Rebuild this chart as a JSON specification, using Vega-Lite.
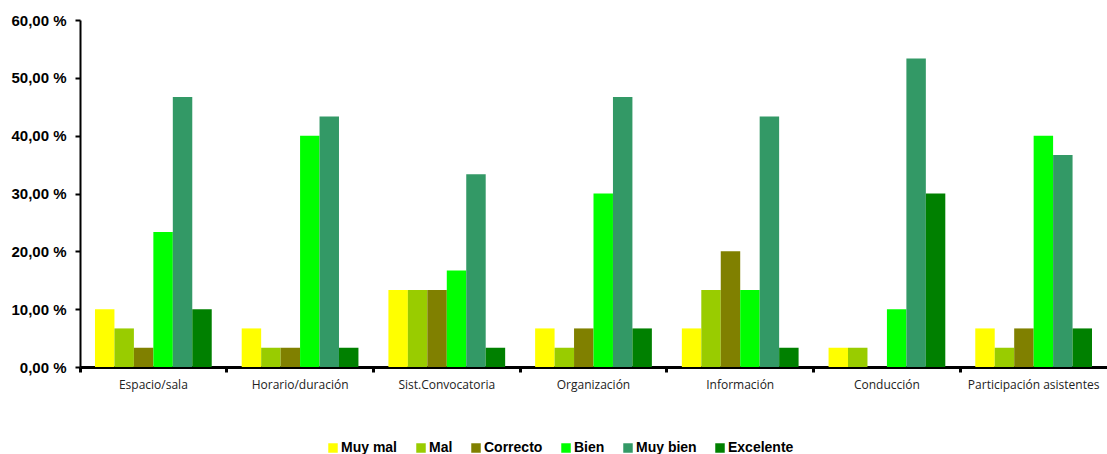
{
  "$schema": "https://vega.github.io/schema/vega-lite/v6.json",
  "width": 1027,
  "height": 347,
  "autosize": {"type": "none"},
  "padding": {"left": 80, "top": 20, "right": 0, "bottom": 87},
  "background": "white",
  "config": {
    "view": {"stroke": null},
    "axis": {"grid": false}
  },
  "data": {
    "values": [
      {"Aspecto": "Espacio/sala", "Valoracion": "Muy mal", "Porcentaje": 10.0},
      {"Aspecto": "Espacio/sala", "Valoracion": "Mal", "Porcentaje": 6.67},
      {"Aspecto": "Espacio/sala", "Valoracion": "Correcto", "Porcentaje": 3.33},
      {"Aspecto": "Espacio/sala", "Valoracion": "Bien", "Porcentaje": 23.33},
      {"Aspecto": "Espacio/sala", "Valoracion": "Muy bien", "Porcentaje": 46.67},
      {"Aspecto": "Espacio/sala", "Valoracion": "Excelente", "Porcentaje": 10.0},
      {"Aspecto": "Horario/duración", "Valoracion": "Muy mal", "Porcentaje": 6.67},
      {"Aspecto": "Horario/duración", "Valoracion": "Mal", "Porcentaje": 3.33},
      {"Aspecto": "Horario/duración", "Valoracion": "Correcto", "Porcentaje": 3.33},
      {"Aspecto": "Horario/duración", "Valoracion": "Bien", "Porcentaje": 40.0},
      {"Aspecto": "Horario/duración", "Valoracion": "Muy bien", "Porcentaje": 43.33},
      {"Aspecto": "Horario/duración", "Valoracion": "Excelente", "Porcentaje": 3.33},
      {"Aspecto": "Sist.Convocatoria", "Valoracion": "Muy mal", "Porcentaje": 13.33},
      {"Aspecto": "Sist.Convocatoria", "Valoracion": "Mal", "Porcentaje": 13.33},
      {"Aspecto": "Sist.Convocatoria", "Valoracion": "Correcto", "Porcentaje": 13.33},
      {"Aspecto": "Sist.Convocatoria", "Valoracion": "Bien", "Porcentaje": 16.67},
      {"Aspecto": "Sist.Convocatoria", "Valoracion": "Muy bien", "Porcentaje": 33.33},
      {"Aspecto": "Sist.Convocatoria", "Valoracion": "Excelente", "Porcentaje": 3.33},
      {"Aspecto": "Organización", "Valoracion": "Muy mal", "Porcentaje": 6.67},
      {"Aspecto": "Organización", "Valoracion": "Mal", "Porcentaje": 3.33},
      {"Aspecto": "Organización", "Valoracion": "Correcto", "Porcentaje": 6.67},
      {"Aspecto": "Organización", "Valoracion": "Bien", "Porcentaje": 30.0},
      {"Aspecto": "Organización", "Valoracion": "Muy bien", "Porcentaje": 46.67},
      {"Aspecto": "Organización", "Valoracion": "Excelente", "Porcentaje": 6.67},
      {"Aspecto": "Información", "Valoracion": "Muy mal", "Porcentaje": 6.67},
      {"Aspecto": "Información", "Valoracion": "Mal", "Porcentaje": 13.33},
      {"Aspecto": "Información", "Valoracion": "Correcto", "Porcentaje": 20.0},
      {"Aspecto": "Información", "Valoracion": "Bien", "Porcentaje": 13.33},
      {"Aspecto": "Información", "Valoracion": "Muy bien", "Porcentaje": 43.33},
      {"Aspecto": "Información", "Valoracion": "Excelente", "Porcentaje": 3.33},
      {"Aspecto": "Conducción", "Valoracion": "Muy mal", "Porcentaje": 3.33},
      {"Aspecto": "Conducción", "Valoracion": "Mal", "Porcentaje": 3.33},
      {"Aspecto": "Conducción", "Valoracion": "Correcto", "Porcentaje": 0},
      {"Aspecto": "Conducción", "Valoracion": "Bien", "Porcentaje": 10.0},
      {"Aspecto": "Conducción", "Valoracion": "Muy bien", "Porcentaje": 53.33},
      {"Aspecto": "Conducción", "Valoracion": "Excelente", "Porcentaje": 30.0},
      {"Aspecto": "Participación asistentes", "Valoracion": "Muy mal", "Porcentaje": 6.67},
      {"Aspecto": "Participación asistentes", "Valoracion": "Mal", "Porcentaje": 3.33},
      {"Aspecto": "Participación asistentes", "Valoracion": "Correcto", "Porcentaje": 6.67},
      {"Aspecto": "Participación asistentes", "Valoracion": "Bien", "Porcentaje": 40.0},
      {"Aspecto": "Participación asistentes", "Valoracion": "Muy bien", "Porcentaje": 36.67},
      {"Aspecto": "Participación asistentes", "Valoracion": "Excelente", "Porcentaje": 6.67}
    ]
  },
  "mark": {"type": "bar"},
  "encoding": {
    "x": {
      "field": "Aspecto",
      "type": "nominal",
      "sort": null,
      "scale": {"paddingInner": 0, "paddingOuter": 0},
      "axis": {
        "title": null,
        "labelAngle": 0,
        "bandPosition": 0,
        "domainColor": "black",
        "domainWidth": 3,
        "tickColor": "black",
        "tickWidth": 3,
        "tickSize": 5,
        "labelPadding": 7,
        "labelFont": "Open Sans",
        "labelFontSize": 12,
        "labelColor": "#222222"
      }
    },
    "xOffset": {
      "field": "Valoracion",
      "type": "nominal",
      "sort": ["Muy mal", "Mal", "Correcto", "Bien", "Muy bien", "Excelente"],
      "scale": {"paddingInner": 0, "paddingOuter": 0.77}
    },
    "y": {
      "field": "Porcentaje",
      "type": "quantitative",
      "scale": {"domain": [0, 60]},
      "axis": {
        "title": null,
        "values": [0, 10, 20, 30, 40, 50, 60],
        "labelExpr": "replace(format(datum.value, '.2f'), '.', ',') + ' %'",
        "domainColor": "black",
        "domainWidth": 2,
        "tickColor": "black",
        "tickWidth": 2,
        "tickSize": 5,
        "labelPadding": 9,
        "labelFont": "Liberation Sans",
        "labelFontWeight": "bold",
        "labelFontSize": 15,
        "labelColor": "black"
      }
    },
    "color": {
      "field": "Valoracion",
      "type": "nominal",
      "sort": ["Muy mal", "Mal", "Correcto", "Bien", "Muy bien", "Excelente"],
      "scale": {
        "domain": ["Muy mal", "Mal", "Correcto", "Bien", "Muy bien", "Excelente"],
        "range": ["#FFFF00", "#99CC00", "#808000", "#00FF00", "#339966", "#008000"]
      },
      "legend": {
        "title": null,
        "orient": "none",
        "legendX": 246,
        "legendY": 421,
        "direction": "horizontal",
        "symbolType": "square",
        "symbolSize": 90,
        "symbolStrokeWidth": 0,
        "labelFont": "Liberation Sans",
        "labelFontWeight": "bold",
        "labelFontSize": 14,
        "labelColor": "black",
        "labelOffset": 1,
        "columnPadding": 16
      }
    }
  }
}
